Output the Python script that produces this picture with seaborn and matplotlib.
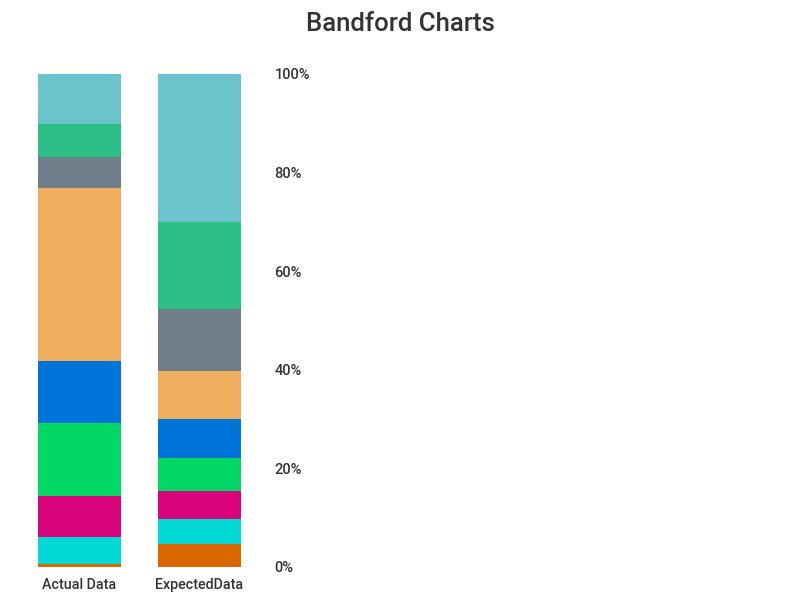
import matplotlib
matplotlib.use("Agg")
import matplotlib.pyplot as plt
import seaborn as sns
import pandas as pd
import numpy as np

# Daten (Anteil der führenden Ziffer in %)
digits = ["1", "2", "3", "4", "5", "6", "7", "8", "9"]
actual = [10.2, 6.7, 6.3, 35.2, 12.4, 14.8, 8.5, 5.3, 0.7]
expected = [30.1, 17.6, 12.5, 9.7, 7.9, 6.7, 5.8, 5.1, 4.6]
bar_labels = ["Actual Data", "ExpectedData"]
colors = ["#6BC3CB", "#2BBF87", "#6E7F8B", "#F0AD5E", "#0074D9",
          "#01D764", "#D9047C", "#00D9D5", "#D96700"]
y_ticks = [0, 20, 40, 60, 80, 100]

sns.set_theme(style="white")
plt.rcParams["font.family"] = ["Roboto", "DejaVu Sans"]

fig = plt.figure(figsize=(8, 6), dpi=100)
ax = fig.add_axes([0.0475, 0.055, 0.28, 0.8217])

# gestapelt: kumulierte Summen von oben nach unten übereinander zeichnen
df = pd.DataFrame({"Actual Data": actual, "ExpectedData": expected}, index=digits)
for i, d in enumerate(digits):
    cum = df.iloc[i:].sum()
    sns.barplot(x=bar_labels, y=cum.values, color=colors[i], saturation=1,
                width=0.69, ax=ax, linewidth=0)

ax.set_xlim(-0.345, 1.52)
ax.set_ylim(0, 100)
ax.yaxis.tick_right()
ax.set_yticks(y_ticks)
ax.set_yticklabels([f"{t}%" for t in y_ticks])
ax.tick_params(axis="y", length=0, pad=9, labelsize=10.5, labelcolor="#333333")
ax.tick_params(axis="x", length=0, pad=8, labelsize=10.3, labelcolor="#333333")
for lbl in ax.get_xticklabels():
    lbl.set_fontweight(500)
for lbl in ax.get_yticklabels():
    lbl.set_horizontalalignment("left")
    lbl.set_fontweight(500)
ax.set_ylabel("")
sns.despine(ax=ax, left=True, bottom=True, right=True, top=True)

fig.suptitle("Bandford Charts", x=0.5, y=0.98, fontsize=18.5, fontweight=500,
             color="#333333")

fig.savefig("out.png", dpi=100)
